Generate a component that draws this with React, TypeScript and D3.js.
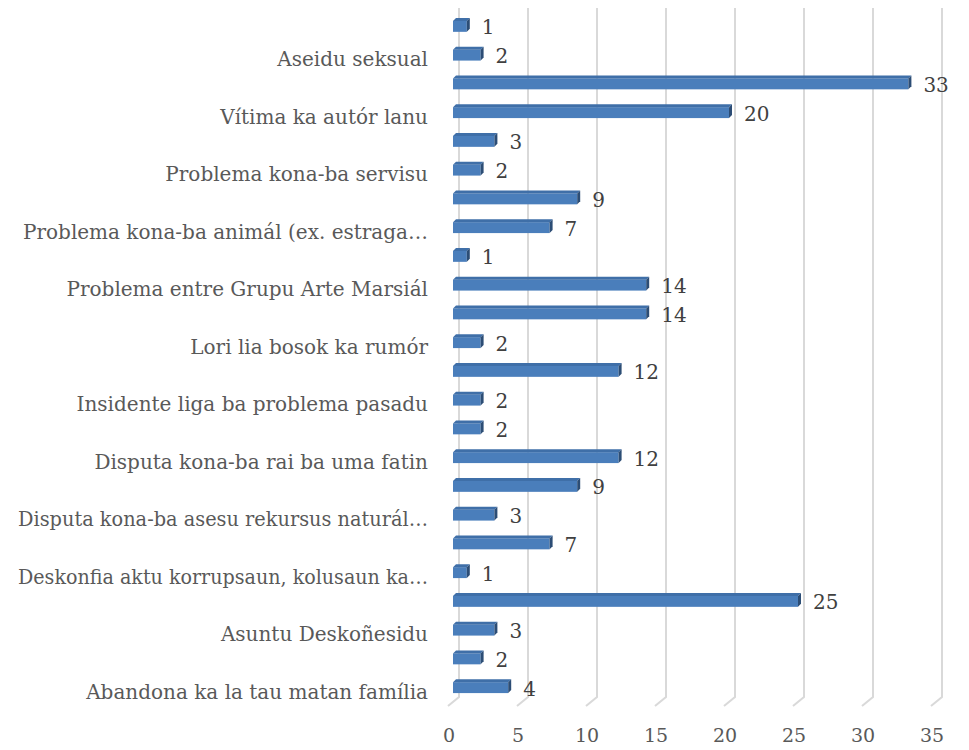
import React, { useEffect, useRef } from 'react';
import * as d3 from 'd3';

// bottom -> top, Excel shows only every other category label
const categories = [
  'Abandona ka la tau matan família', '',
  'Asuntu Deskoñesidu', '',
  'Deskonfia aktu korrupsaun, kolusaun ka…', '',
  'Disputa kona-ba asesu rekursus naturál…', '',
  'Disputa kona-ba rai ba uma fatin', '',
  'Insidente liga ba problema pasadu', '',
  'Lori lia bosok ka rumór', '',
  'Problema entre Grupu Arte Marsiál', '',
  'Problema kona-ba animál (ex. estraga…', '',
  'Problema kona-ba servisu', '',
  'Vítima ka autór lanu', '',
  'Aseidu seksual', '',
];
const values = [4, 2, 3, 25, 1, 7, 3, 9, 12, 2, 2, 12, 2, 14, 14, 1, 7, 9, 2, 3, 20, 33, 2, 1];
const xTicks = [0, 5, 10, 15, 20, 25, 30, 35];

const FONT = '"DejaVu Serif", serif';

const App = () => {
  const svgRef = useRef<SVGSVGElement>(null);
  const width = 969;
  const height = 750;

  useEffect(() => {
    const svg = d3.select(svgRef.current);
    svg.selectAll('*').remove();

    const idx = values.map((_, i) => i);
    const x = d3.scaleLinear().domain([0, 35]).range([459, 942]);
    // band over the back wall; index 0 at the bottom
    const y = d3.scaleBand<number>().domain(idx).range([702, 12]).paddingInner(0.62).paddingOuter(0.31);

    const floorY = 697;
    const depthX = -11;
    const depthY = 9;

    // gridlines (back wall + floor edge)
    svg.append('g').selectAll('path')
      .data(xTicks)
      .enter().append('path')
      .attr('d', d => `M${x(d)},5 L${x(d)},${floorY} L${x(d) + depthX},${floorY + depthY}`)
      .attr('fill', 'none')
      .attr('stroke', '#d9d9d9')
      .attr('stroke-width', 2);

    // x tick labels
    svg.append('g').selectAll('text')
      .data(xTicks)
      .enter().append('text')
      .attr('x', d => x(d) + depthX + 1)
      .attr('y', 735)
      .attr('dy', '0.35em')
      .attr('text-anchor', 'middle')
      .attr('font-family', FONT)
      .attr('font-size', 19)
      .attr('fill', '#595959')
      .text(d => d);

    // 3D bars
    const shift = -6;
    const dx = 3;
    const dy = 3;
    const bars = svg.append('g').selectAll('g')
      .data(idx)
      .enter().append('g');

    bars.append('rect')
      .attr('x', x(0) + shift)
      .attr('y', i => y(i)!)
      .attr('width', i => x(values[i]) - x(0))
      .attr('height', y.bandwidth())
      .attr('fill', '#4a7ebb');

    bars.append('path')
      .attr('d', i => {
        const x0 = x(0) + shift, x1 = x(values[i]) + shift, yt = y(i)!;
        return `M${x0},${yt} L${x1},${yt} L${x1 + dx},${yt - dy} L${x0 + dx},${yt - dy} Z`;
      })
      .attr('fill', '#3f6fa8');

    bars.append('path')
      .attr('d', i => {
        const x1 = x(values[i]) + shift, yt = y(i)!, h = y.bandwidth();
        return `M${x1},${yt} L${x1 + dx},${yt - dy} L${x1 + dx},${yt + h - dy} L${x1},${yt + h} Z`;
      })
      .attr('fill', '#2c4d75');

    // value labels
    svg.append('g').selectAll('text')
      .data(idx)
      .enter().append('text')
      .attr('x', i => x(values[i]) + shift + dx + 12)
      .attr('y', i => y(i)! + y.bandwidth() / 2 + 1)
      .attr('dy', '0.35em')
      .attr('font-family', FONT)
      .attr('font-size', 20)
      .attr('fill', '#404040')
      .text(i => values[i]);

    // category labels, squeezed if wider than the space Excel gives them
    const maxLabel = 410;
    svg.append('g').selectAll('text')
      .data(idx.filter(i => categories[i] !== ''))
      .enter().append('text')
      .attr('x', 428)
      .attr('y', i => y(i)! + y.bandwidth() / 2 + 4)
      .attr('dy', '0.35em')
      .attr('text-anchor', 'end')
      .attr('font-family', FONT)
      .attr('font-size', 20)
      .attr('fill', '#595959')
      .text(i => categories[i])
      .each(function () {
        const node = this as SVGTextElement;
        if (node.getComputedTextLength() > maxLabel) {
          node.setAttribute('textLength', String(maxLabel));
          node.setAttribute('lengthAdjust', 'spacingAndGlyphs');
        }
      });
  }, []);

  return (
    <svg ref={svgRef} width={width} height={height} style={{ display: 'block', margin: '-8px' }}></svg>
  );
};

export default App;
